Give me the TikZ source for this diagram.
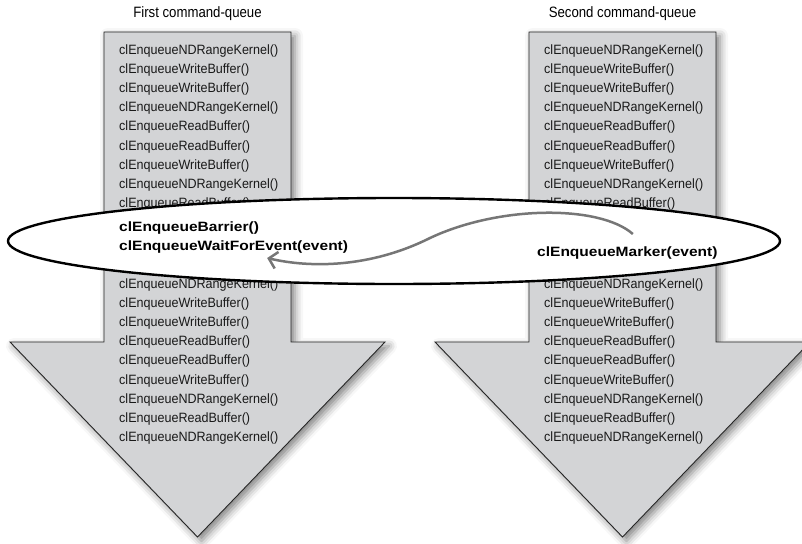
\documentclass[tikz,border=0pt]{standalone}
\usepackage{fontspec}
\setmainfont{Liberation Sans}
\newfontfamily\callfont{Liberation Sans}[FakeStretch=0.93]
\newfontfamily\headfont{Liberation Sans}[FakeStretch=0.88]
\newfontfamily\syncfont{Liberation Sans}[FakeStretch=1.15]
\usetikzlibrary{arrows.meta,shadows.blur}

\definecolor{queuegray}{RGB}{211,212,214}
\definecolor{curvegray}{RGB}{118,118,118}

\tikzset{
  queue/.style={fill=queuegray, draw=black!85, line width=0.9pt,
    blur shadow={shadow xshift=4pt, shadow yshift=-4pt, shadow blur radius=8pt, shadow opacity=50}},
  call/.style={anchor=base west, inner sep=0pt, text=black!90,
    font=\callfont\fontsize{13.5}{19}\selectfont},
  head/.style={anchor=base, inner sep=0pt, font=\headfont\fontsize{15}{18}\selectfont},
  sync/.style={anchor=base west, inner sep=0pt,
    font=\syncfont\bfseries\fontsize{13.5}{19}\selectfont},
  band/.style={fill=white, draw=black, line width=2.4pt},
  signal/.style={draw=curvegray, line width=2.5pt, -{Straight Barb[length=8pt,width=17pt]}}
}

\begin{document}
\begin{tikzpicture}[x=1pt,y=-1pt]
\useasboundingbox (0,0) rectangle (802,543);

% the two command-queues
\foreach \c/\name [count=\q] in {197.5/First, 622.5/Second} {
  \draw[queue] (\c-93.5,32) -- (\c+93.5,32) -- (\c+93.5,342) -- (\c+187.5,342)
    -- (\c,537) -- (\c-187.5,342) -- (\c-93.5,342) -- cycle;
  \node[head] (title\q) at (\c,17.5) {\name\ command-queue};
  \foreach \k [count=\i] in {NDRangeKernel,WriteBuffer,WriteBuffer,NDRangeKernel,
      ReadBuffer,ReadBuffer,WriteBuffer,NDRangeKernel,ReadBuffer}
    {\node[call] (up\q-\i) at (\c-78.5,54.5+19.1*\i-19.1) {clEnqueue\k()};}
  \foreach \k [count=\i] in {NDRangeKernel,WriteBuffer,WriteBuffer,ReadBuffer,
      ReadBuffer,WriteBuffer,NDRangeKernel,ReadBuffer,NDRangeKernel}
    {\node[call] (low\q-\i) at (\c-78.5,288.5+19.1*\i-19.1) {clEnqueue\k()};}
}

% synchronisation band
\draw[band] (394,241) ellipse [x radius=386, y radius=43];
\node[sync] (barrier) at (119,231) {clEnqueueBarrier()};
\node[sync] (wait) at (119,250) {clEnqueueWaitForEvent(event)};
\node[sync] (marker) at (537,256.5) {clEnqueueMarker(event)};

\draw[signal] ([shift={(5.5,-12.5)}]marker.north) .. controls (600,205) and (500,205) .. (430,238)
  .. controls (370,268) and (310,268) .. ([shift={(33.5,5)}]wait.south);

\end{tikzpicture}
\end{document}
